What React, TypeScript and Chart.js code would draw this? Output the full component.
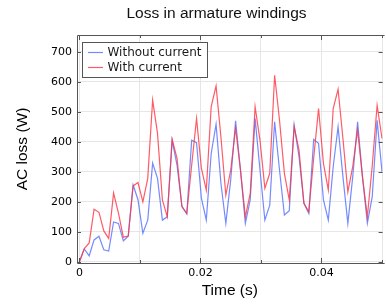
import React, { useEffect, useRef } from 'react';
import { Chart, registerables } from 'chart.js';

Chart.register(...registerables);

const TITLE = 'Loss in armature windings';
const X_TITLE = 'Time (s)';
const Y_TITLE = 'AC loss (W)';
const SERIES_NAMES = ['Without current', 'With current'];
const T_END = 0.05;

const WITHOUT_CURRENT = [
  0, 43, 20, 73, 85, 40, 36, 133, 128, 70,
  85, 256, 207, 95, 139, 329, 278, 139, 150, 405,
  322, 186, 160, 405, 397, 211, 139, 361, 459, 261,
  128, 273, 470, 306, 128, 206, 478, 306, 139, 189,
  467, 306, 156, 170, 456, 350, 195, 161, 408, 395,
  206, 139, 317, 450, 283, 128, 283, 467, 283, 128,
  217, 472, 300,
];

const WITH_CURRENT = [
  0, 44, 63, 175, 165, 103, 78, 229, 162, 82,
  86, 253, 264, 200, 278, 539, 428, 206, 150, 408,
  345, 183, 161, 322, 478, 311, 239, 517, 586, 415,
  222, 306, 445, 306, 150, 228, 517, 405, 245, 295,
  622, 472, 295, 206, 450, 372, 195, 167, 345, 511,
  328, 239, 511, 575, 410, 233, 317, 439, 283, 150,
  320, 522, 411,
];

const X_TICKS = [0, 0.01, 0.02, 0.03, 0.04, 0.05];
const X_TICK_LABELS = ['0', '', '0.02', '', '0.04', ''];
const Y_TICKS = [0, 100, 200, 300, 400, 500, 600, 700];
const Y_TICK_LABELS = ['0', '100', '200', '300', '400', '500', '600', '700'];

const BLUE = 'rgba(80, 110, 255, 0.8)';
const RED = 'rgba(255, 50, 65, 0.8)';
const FRAME = '#555555';

const TIMES = WITH_CURRENT.map((_, i) => (i * T_END) / (WITH_CURRENT.length - 1));

const decorPlugin = {
  id: 'decor',
  afterDatasetsDraw(chart: any) {
    const { ctx, chartArea } = chart;
    const { left, right, top, bottom } = chartArea;
    const xs = chart.scales.x;
    const ys = chart.scales.y;
    ctx.save();
    ctx.strokeStyle = FRAME;
    ctx.lineWidth = 1;
    // frame
    ctx.beginPath();
    ctx.moveTo(Math.round(left) + 0.5, Math.round(bottom) + 0.5);
    ctx.lineTo(Math.round(left) + 0.5, Math.round(top) + 0.5);
    ctx.lineTo(right + 2, Math.round(top) + 0.5);
    ctx.moveTo(Math.round(left) + 0.5, Math.round(bottom) + 0.5);
    ctx.lineTo(right + 2, Math.round(bottom) + 0.5);
    ctx.stroke();
    // mirror ticks
    ctx.beginPath();
    X_TICKS.forEach((v, i) => {
      const px = Math.round(xs.getPixelForValue(v)) + 0.5;
      const len = X_TICK_LABELS[i] !== '' ? 5 : 3;
      ctx.moveTo(px, top);
      ctx.lineTo(px, top + len);
      ctx.moveTo(px, bottom);
      ctx.lineTo(px, bottom - len);
    });
    Y_TICKS.forEach((v) => {
      const py = Math.round(ys.getPixelForValue(v)) + 0.5;
      ctx.moveTo(left, py);
      ctx.lineTo(left + 4, py);
      ctx.moveTo(right, py);
      ctx.lineTo(right - 4, py);
    });
    ctx.stroke();

    // legend
    const lx = 82.5;
    const ly = 42.5;
    const lw = 125;
    const lh = 35;
    ctx.fillStyle = '#ffffff';
    ctx.fillRect(lx, ly, lw, lh);
    ctx.strokeStyle = FRAME;
    ctx.strokeRect(lx, ly, lw, lh);
    const colors = [BLUE, RED];
    const rowY = [52.5, 67.5];
    ctx.font = '12px "DejaVu Sans"';
    ctx.textBaseline = 'middle';
    ctx.textAlign = 'left';
    SERIES_NAMES.forEach((name, i) => {
      ctx.strokeStyle = colors[i];
      ctx.lineWidth = 1.2;
      ctx.beginPath();
      ctx.moveTo(88, rowY[i]);
      ctx.lineTo(103, rowY[i]);
      ctx.stroke();
      ctx.fillStyle = '#1a1a1a';
      ctx.fillText(name, 107.5, rowY[i] + 0.5);
    });
    ctx.restore();
  },
  afterDraw(chart: any) {
    const { ctx } = chart;
    ctx.save();
    ctx.font = '15.5px "Liberation Sans"';
    ctx.fillStyle = '#111111';
    ctx.textAlign = 'center';
    ctx.textBaseline = 'alphabetic';
    ctx.fillText(TITLE, 216.5, 18);
    ctx.restore();
  },
};

export default function App() {
  const ref = useRef<HTMLCanvasElement | null>(null);

  useEffect(() => {
    document.body.style.margin = '0';
    const canvas = ref.current;
    if (!canvas) return;
    const chart = new Chart(canvas, {
      type: 'line',
      data: {
        datasets: [
          {
            label: SERIES_NAMES[0],
            data: TIMES.map((t, i) => ({ x: t, y: WITHOUT_CURRENT[i] })),
            borderColor: BLUE,
            backgroundColor: BLUE,
            borderWidth: 1.2,
            pointRadius: 0,
            tension: 0,
            order: 1,
          },
          {
            label: SERIES_NAMES[1],
            data: TIMES.map((t, i) => ({ x: t, y: WITH_CURRENT[i] })),
            borderColor: RED,
            backgroundColor: RED,
            borderWidth: 1.2,
            pointRadius: 0,
            tension: 0,
            order: 0,
          },
        ],
      },
      options: {
        responsive: false,
        animation: false,
        devicePixelRatio: 1,
        layout: { padding: { top: 35, left: 0, right: 0, bottom: 0 } },
        plugins: {
          legend: { display: false },
          title: { display: false },
          tooltip: { enabled: false },
        },
        scales: {
          x: {
            type: 'linear',
            min: -0.0004,
            max: 0.0501,
            afterBuildTicks: (scale: any) => {
              scale.ticks = X_TICKS.map((v) => ({ value: v }));
            },
            afterFit: (scale: any) => {
              scale.height = 42;
            },
            ticks: {
              autoSkip: false,
              maxRotation: 0,
              padding: 4,
              color: '#000000',
              font: { family: '"DejaVu Sans"', size: 11 },
              callback: (_v: any, i: number) => X_TICK_LABELS[i],
            },
            grid: { color: '#e6e6e6', drawTicks: false },
            border: { display: false },
            title: {
              display: true,
              text: X_TITLE,
              color: '#000000',
              font: { family: '"Liberation Sans"', size: 15.5 },
              padding: { top: 0, bottom: 5 },
            },
          },
          y: {
            type: 'linear',
            min: -4,
            max: 756,
            afterBuildTicks: (scale: any) => {
              scale.ticks = Y_TICKS.map((v) => ({ value: v }));
            },
            afterFit: (scale: any) => {
              scale.width = 77;
            },
            ticks: {
              autoSkip: false,
              padding: 5,
              color: '#000000',
              font: { family: '"DejaVu Sans"', size: 11 },
              callback: (_v: any, i: number) => Y_TICK_LABELS[i],
            },
            grid: { color: '#e6e6e6', drawTicks: false },
            border: { display: false },
            title: {
              display: true,
              text: Y_TITLE,
              color: '#000000',
              font: { family: '"Liberation Sans"', size: 15.5 },
              padding: { top: 13.5, bottom: 0 },
            },
          },
        },
      },
      plugins: [decorPlugin],
    } as any);
    return () => chart.destroy();
  }, []);

  return <canvas ref={ref} width={386} height={305} style={{ display: 'block' }} />;
}
